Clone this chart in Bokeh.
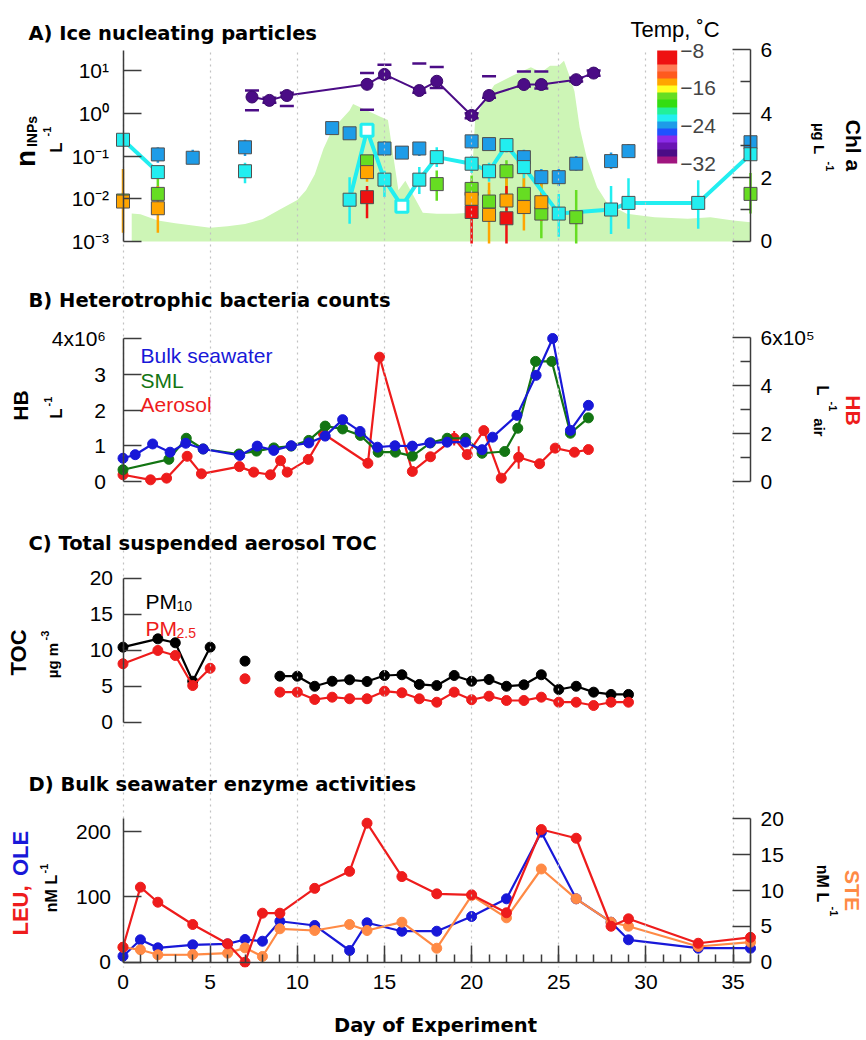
import math
from bokeh.plotting import figure
from bokeh.layouts import column
from bokeh.models import (Range1d, LinearAxis, LogAxis, FixedTicker, Label, ColorBar,
                          LinearColorMapper, LinearScale, LogScale, Grid, BoxAnnotation)
from bokeh.embed import file_html
from bokeh.resources import INLINE

FONT = "Liberation Sans"
TITLE_FONT = "DejaVu Sans"

# ---------------- data ----------------
# Panel A: Chl a (ug/L, right axis)
chl_day = [0.5, 1, 2, 3, 4, 5, 6, 7, 8, 9, 10, 10.5, 11, 11.5, 12, 12.5, 13, 13.2, 14, 14.8,
           15.2, 15.8, 16.2, 16.8, 17.2, 18, 19, 19.9, 20.2, 20.6, 21.3, 22.4, 23.4, 24, 24.5,
           25, 25.3, 25.6, 25.9, 26.2, 26.6, 27.2, 27.8, 28.9, 30.5, 32.4, 33.7, 35, 36]
chl_val = [0.88, 0.85, 0.66, 0.57, 0.5, 0.43, 0.48, 0.55, 0.7, 1.0, 1.3, 1.6, 2.1, 2.9, 3.5, 3.8,
           4.1, 4.3, 4.1, 3.9, 3.8, 1.6, 1.9, 1.3, 0.9, 0.87, 0.87, 0.9, 3.8, 4.3, 4.9, 5.2, 5.45,
           5.3, 5.5, 5.5, 5.66, 5.2, 4.7, 3.57, 2.63, 1.7, 1.18, 0.87, 0.76, 0.71, 0.76, 0.66, 0.6]

# INP concentrations (per L) by freezing temperature
purple_temp = -30.3
purple_day = [7.4, 8.4, 9.4, 14, 15, 17, 18, 20, 21, 23, 24, 26, 27]
purple_val = [2.4, 2.0, 2.6, 4.75, 8.1, 3.4, 5.6, 0.89, 2.6, 4.7, 4.7, 6.1, 8.7]
purple_hi = [3.4, 2.3, 3.0, 8.7, 13.7, 14.5, 12.0, 1.0, 7.3, 9.5, 9.5, 6.8, 10.0]
purple_lo = [1.17, 1.75, 1.48, 1.2, 6.7, 3.0, 3.9, 0.76, 2.3, 4.2, 3.8, 5.5, 7.5]

sky_temp = -24.2
sky_day = [2, 4, 7, 12, 13, 15, 16, 17, 20, 21, 23, 24, 25, 26, 28, 29, 36]
sky_val = [0.109, 0.091, 0.16, 0.45, 0.34, 0.15, 0.12, 0.15, 0.22, 0.19, 0.094, 0.032, 0.032,
           0.066, 0.076, 0.13, 0.21]
sky_lo = [0.07, 0.065, 0.10, 0.33, 0.25, 0.10, 0.085, 0.10, 0.15, 0.14, 0.06, 0.02, 0.02,
          0.045, 0.05, 0.09, 0.15]
sky_hi = [0.16, 0.14, 0.24, 0.6, 0.45, 0.22, 0.17, 0.21, 0.3, 0.26, 0.14, 0.05, 0.05, 0.1,
          0.12, 0.19, 0.28]

cyan_temp = -22.5
cyan_day = [0, 2, 7, 13, 14, 15, 16, 17, 18, 20, 21, 22, 23, 25, 28, 29, 33, 36]
cyan_val = [0.24, 0.042, 0.044, 0.0095, 0.40, 0.028, 0.0067, 0.028, 0.094, 0.066, 0.044, 0.18,
            0.055, 0.0045, 0.0056, 0.008, 0.008, 0.11]
cyan_lo = [0.17, 0.03, 0.023, 0.0026, 0.3, 0.011, 0.005, 0.013, 0.055, 0.04, 0.025, 0.12,
           0.03, 0.0013, 0.0015, 0.002, 0.002, 0.08]
cyan_hi = [0.33, 0.06, 0.07, 0.032, 0.5, 0.045, 0.009, 0.055, 0.16, 0.1, 0.07, 0.25, 0.09,
           0.013, 0.02, 0.03, 0.027, 0.15]
cyan_open = [0, 0, 0, 0, 1, 0, 1, 0, 0, 0, 0, 0, 0, 0, 0, 0, 0, 0]
cyan_seg = [0, 0, 1, 2, 2, 2, 2, 2, 2, 2, 2, 2, 2, 2, 2, 2, 2, 2]

lime_temp = -17.5
lime_day = [0, 2, 14, 18, 20, 21, 22, 23, 24, 26, 36]
lime_val = [0.0091, 0.013, 0.075, 0.022, 0.017, 0.0086, 0.044, 0.013, 0.0045, 0.0037, 0.013]
lime_lo = [0.006, 0.009, 0.05, 0.009, 0.007, 0.003, 0.013, 0.006, 0.0012, 0.0009, 0.0045]
lime_hi = [0.014, 0.03, 0.1, 0.046, 0.035, 0.016, 0.08, 0.03, 0.04, 0.016, 0.04]

orange_temp = -14.8
orange_day = [0, 2, 14, 20, 21, 22, 23, 24]
orange_val = [0.0086, 0.006, 0.042, 0.010, 0.0042, 0.0091, 0.0064, 0.0083]
orange_lo = [0.0016, 0.0016, 0.025, 0.004, 0.0009, 0.003, 0.0018, 0.003]
orange_hi = [0.05, 0.02, 0.06, 0.02, 0.024, 0.03, 0.04, 0.03]

red_temp = -9.5
red_day = [14, 20, 22]
red_val = [0.0109, 0.0049, 0.0035]
red_lo = [0.0035, 0.0009, 0.0009]
red_hi = [0.02, 0.025, 0.02]

TEMP_LOW, TEMP_HIGH = -32, -8
TEMP_TICKS = [-32, -24, -16, -8]
TEMP_PALETTE = ["#a0157f", "#4b0c86", "#6a14b4", "#8b2be8", "#1f52ff", "#1e9ce8", "#22eef0",
                "#22f09a", "#33dd11", "#66dd22", "#ffff22", "#ffa500", "#ff5a1e", "#ff7a55",
                "#ee1111", "#ee1111"]

# Panel B: heterotrophic bacteria (bulk & SML in 1e6 /L, aerosol in 1e5 /L air)
hb_bulk_day = [0, 0.7, 1.7, 2.7, 3.6, 4.6, 6.7, 7.7, 8.65, 9.65, 10.66, 11.6, 12.6, 13.6, 14.6,
               15.6, 16.6, 17.6, 18.6, 19.65, 20.6, 21.2, 22.6, 23.7, 24.65, 25.67, 26.7]
hb_bulk = [0.65, 0.75, 1.05, 0.82, 1.07, 0.91, 0.73, 0.99, 0.87, 1.0, 1.08, 1.27, 1.73, 1.40,
           0.96, 1.0, 0.99, 1.08, 1.10, 1.10, 0.89, 1.24, 1.85, 2.97, 4.0, 1.43, 2.13]
hb_sml_day = [0, 2.63, 3.63, 4.6, 6.65, 7.66, 8.65, 9.65, 10.66, 11.6, 12.6, 13.62, 14.64,
              15.63, 16.6, 17.64, 18.6, 19.65, 20.6, 21.9, 22.65, 23.67, 24.6, 25.67, 26.7]
hb_sml = [0.33, 0.62, 1.21, 0.91, 0.77, 0.85, 0.94, 0.99, 1.15, 1.55, 1.47, 1.29, 0.82, 0.82,
          0.71, 1.08, 1.21, 1.21, 0.79, 0.84, 1.49, 3.36, 3.36, 1.35, 1.78]
hb_aer_day = [0, 1.58, 2.5, 3.68, 4.5, 6.68, 7.5, 8.46, 9.04, 9.42, 10.63, 11.5, 14.05, 14.72,
              16.6, 17.64, 19.0, 19.75, 20.7, 21.7, 22.7, 23.9, 24.8, 25.9, 26.7]
hb_aer = [0.28, 0.07, 0.14, 1.05, 0.32, 0.62, 0.39, 0.28, 0.87, 0.39, 0.92, 1.99, 0.76, 5.18,
          0.42, 1.03, 1.8, 1.12, 2.12, 0.14, 1.01, 0.74, 1.39, 1.22, 1.33]
hb_aer_err_day = [19.0, 22.7]
hb_aer_err_lo = [1.5, 0.53]
hb_aer_err_hi = [2.1, 1.47]

# Panel C: TOC (ug m-3)
toc_day = [0, 2, 3, 4, 5, 7, 9, 10, 11, 12, 13, 14, 15, 16, 17, 18, 19, 20, 21, 22, 23, 24, 25,
           26, 27, 28, 29]
pm10 = [10.44, 11.6, 11.05, 5.7, 10.44, 8.5, 6.4, 6.4, 5.0, 5.7, 5.9, 5.66, 6.5, 6.6, 5.25, 5.1,
        6.5, 5.7, 5.94, 5.0, 5.2, 6.6, 4.55, 5.0, 4.18, 3.86, 3.86]
pm25 = [8.13, 9.98, 9.28, 5.1, 7.5, 6.04, 4.18, 4.18, 3.16, 3.48, 3.26, 3.26, 4.31, 4.09, 3.26,
        2.78, 4.18, 3.12, 3.62, 3.02, 3.02, 3.48, 2.78, 2.78, 2.32, 2.78, 2.78]
toc_seg = [0, 0, 0, 0, 0, 1] + [2] * 21

# Panel D: enzyme activities (nM/L)
enz_day = [0, 1, 2, 4, 6, 7, 8, 9, 11, 13, 14, 16, 18, 20, 22, 24, 26, 28, 29, 33, 36]
leu = [22.9, 114.8, 91.8, 57.7, 28.1, 0, 75, 75, 113, 139, 212.7, 131, 104.6, 103.1, 75.6, 203,
       189.7, 55, 66.4, 29, 38]
ole = [9.2, 34.3, 22, 26.6, 28, 34.7, 32.1, 62.7, 56.2, 17.9, 60.3, 47.4, 47.4, 69.9, 97, 199,
       97, 61.2, 34.3, 21.4, 21.4]
ste = [2.09, 1.73, 1.03, 1.07, 1.26, 2.0, 0.8, 4.66, 4.42, 5.26, 4.42, 5.58, 1.95, 9.3, 6.19,
       13.0, 8.84, 5.58, 5.02, 2.19, 2.79]

GRID_DAYS = [0, 5, 10, 15, 20, 25, 30, 35]
X_TICKS = [0, 5, 10, 15, 20, 25, 30, 35]
X_MINOR = list(range(0, 37))

# ---------------- styling / geometry ----------------
AX = "#3c3c3c"
W = 866
X0_PX = 122.5          # page x of day 0
PXD = 627.5 / 36       # pixels per day
XS = -X0_PX / PXD
XE = XS + W / PXD
RED = "#ee1c1c"
BLUE = "#1818d8"
GREEN = "#137513"
ORANGE = "#ff8a45"
SQ_LINE = "#505050"


def temp_color(t):
    n = len(TEMP_PALETTE)
    i = int((t - TEMP_LOW) / (TEMP_HIGH - TEMP_LOW) * n)
    return TEMP_PALETTE[min(max(i, 0), n - 1)]


def new_panel(height, ylo, yhi, log=False):
    p = figure(width=W, height=height, x_range=Range1d(XS, XE), y_range=Range1d(ylo, yhi),
               x_axis_type=None, y_axis_type=None, title=None,
               output_backend="svg", toolbar_location=None, min_border=0)
    if log:
        p.y_scale = LogScale()
    p.outline_line_color = None
    p.background_fill_color = "white"
    p.border_fill_color = "white"
    return p


def add_grid(p):
    p.add_layout(Grid(dimension=0, ticker=FixedTicker(ticks=GRID_DAYS), level="glyph",
                      grid_line_color="#c2c2c2", grid_line_dash="dotted", grid_line_width=1.2))


def mask(p, top=None, bottom=None):
    p.add_layout(BoxAnnotation(top=top, bottom=bottom, fill_color="white", fill_alpha=1.0,
                               line_color=None, level="glyph"))


def yaxis(p, side, ticks, bounds, minor=None, overrides=None, rng="default", log=False,
          standoff=12):
    cls = LogAxis if log else LinearAxis
    loc = 0 if side == "left" else 36
    ax = cls(y_range_name=rng, fixed_location=loc, bounds=bounds,
             ticker=FixedTicker(ticks=ticks, minor_ticks=minor or []),
             major_tick_in=18, major_tick_out=0, minor_tick_in=10, minor_tick_out=0,
             axis_line_color=AX, major_tick_line_color=AX, minor_tick_line_color=AX,
             axis_line_width=1.5, major_tick_line_width=1.5, minor_tick_line_width=1.5,
             major_label_text_font=FONT, major_label_text_font_size="21px",
             major_label_text_color="black", major_label_standoff=standoff)
    if overrides:
        ax.major_label_overrides = overrides
    p.add_layout(ax, side)
    return ax


def txt(p, fb, s, px, py, size, color="black", bold=False, angle=0.0, align="left",
        base="alphabetic", font=FONT):
    p.add_layout(Label(x=px, y=fb - py, x_units="screen", y_units="screen", text=s,
                       text_font=font, text_font_size=f"{size}px",
                       text_font_style="bold" if bold else "normal",
                       text_color=color, angle=angle, text_align=align, text_baseline=base))


def title(p, fb, s, py):
    txt(p, fb, s, 28, py, 19.5, bold=True, font=TITLE_FONT)


UP = math.pi / 2
DOWN = -math.pi / 2

# ---------------- Panel A ----------------
FA = 270
pA = new_panel(270, 10 ** -3.678, 10 ** (-3 + 241 / 42.75), log=True)
pA.extra_y_ranges = {"chl": Range1d(-0.908, 241 / 31.95)}
pA.extra_y_scales = {"chl": LinearScale()}
pA.varea(x=chl_day, y1=0, y2=chl_val, y_range_name="chl", fill_color="#cdf5b6",
         level="underlay")
add_grid(pA)
mask(pA, bottom=10 ** (-3 + 191 / 42.75))

series = [(sky_day, sky_val, sky_lo, sky_hi, sky_temp),
          (lime_day, lime_val, lime_lo, lime_hi, lime_temp),
          (orange_day, orange_val, orange_lo, orange_hi, orange_temp),
          (red_day, red_val, red_lo, red_hi, red_temp),
          (cyan_day, cyan_val, cyan_lo, cyan_hi, cyan_temp)]
for d, v, lo, hi, t in series:
    pA.segment(x0=d, y0=lo, x1=d, y1=hi, line_color=temp_color(t), line_width=2.5)

pc = temp_color(purple_temp)
pA.scatter(x=purple_day, y=purple_hi, marker="dash", size=14, line_color=pc, line_width=2.5)
pA.scatter(x=purple_day, y=purple_lo, marker="dash", size=14, line_color=pc, line_width=2.5)

cc = temp_color(cyan_temp)
segs_x, segs_y = {}, {}
for d, v, s in zip(cyan_day, cyan_val, cyan_seg):
    segs_x.setdefault(s, []).append(d)
    segs_y.setdefault(s, []).append(v)
pA.multi_line(xs=[segs_x[k] for k in sorted(segs_x)], ys=[segs_y[k] for k in sorted(segs_y)],
              line_color=cc, line_width=4)

for d, v, lo, hi, t in series[:4]:
    pA.scatter(x=d, y=v, marker="square", size=13, fill_color=temp_color(t),
               line_color=SQ_LINE, line_width=1)
cf_d = [d for d, o in zip(cyan_day, cyan_open) if not o]
cf_v = [v for v, o in zip(cyan_val, cyan_open) if not o]
co_d = [d for d, o in zip(cyan_day, cyan_open) if o]
co_v = [v for v, o in zip(cyan_val, cyan_open) if o]
pA.scatter(x=cf_d, y=cf_v, marker="square", size=13, fill_color=cc, line_color=SQ_LINE,
           line_width=1)
pA.scatter(x=co_d, y=co_v, marker="square", size=12, fill_color="white", line_color=cc,
           line_width=3)

pA.line(x=purple_day, y=purple_val, line_color=pc, line_width=2)
pA.scatter(x=purple_day, y=purple_val, marker="circle", size=12, fill_color=pc,
           line_color="#3a0a6a")

yaxis(pA, "left", [1e-3, 1e-2, 1e-1, 1, 10], (1e-3, 10 ** (-3 + 191 / 42.75)), log=True,
      standoff=14, overrides={1e-3: "10⁻³", 1e-2: "10⁻²", 1e-1: "10⁻¹", 1: "10⁰", 10: "10¹"})
yaxis(pA, "right", [0, 2, 4, 6], (0, 6), minor=[1, 3, 5], rng="chl", standoff=10)

cmap = LinearColorMapper(palette=TEMP_PALETTE, low=TEMP_LOW, high=TEMP_HIGH)
cbar = ColorBar(color_mapper=cmap, ticker=FixedTicker(ticks=TEMP_TICKS), location=(656.7, 107),
                width=20, height=113, padding=0, margin=0, title=None,
                major_label_text_font=FONT, major_label_text_font_size="21px",
                label_standoff=3, major_tick_line_color=None, minor_tick_line_color=None,
                bar_line_color=None, border_line_color=None, background_fill_alpha=0)
pA.add_layout(cbar)

title(pA, FA, "A) Ice nucleating particles", 33)
txt(pA, FA, "Temp, ˚C", 630, 29, 22)
txt(pA, FA, "n", 25, 158, 28, bold=True, angle=UP, align="center", base="middle")
txt(pA, FA, "INPs", 31, 131, 14, bold=True, angle=UP, align="center", base="middle")
txt(pA, FA, "L", 56, 147, 17, bold=True, angle=UP, align="center", base="middle")
txt(pA, FA, "-1", 46, 131, 11, bold=True, angle=UP, align="center", base="middle")
txt(pA, FA, "Chl a", 853, 145, 21, bold=True, angle=DOWN, align="center", base="middle")
txt(pA, FA, "µg L", 819, 138, 15, bold=True, angle=DOWN, align="center", base="middle")
txt(pA, FA, "-1", 829, 166, 11, bold=True, angle=DOWN, align="center", base="middle")

# ---------------- Panel B ----------------
FB = 510
pB = new_panel(240, -0.811, 5.902)
pB.extra_y_ranges = {"air": Range1d(-1.208, 8.79)}
add_grid(pB)
pB.segment(x0=hb_aer_err_day, y0=hb_aer_err_lo, x1=hb_aer_err_day, y1=hb_aer_err_hi,
           line_color=RED, line_width=2, y_range_name="air")
pB.line(x=hb_aer_day, y=hb_aer, line_color=RED, line_width=2.2, y_range_name="air")
pB.scatter(x=hb_aer_day, y=hb_aer, marker="circle", size=10, color=RED, y_range_name="air")
pB.line(x=hb_sml_day, y=hb_sml, line_color=GREEN, line_width=2.2)
pB.scatter(x=hb_sml_day, y=hb_sml, marker="circle", size=10, color=GREEN)
pB.line(x=hb_bulk_day, y=hb_bulk, line_color=BLUE, line_width=2.2)
pB.scatter(x=hb_bulk_day, y=hb_bulk, marker="circle", size=10, color=BLUE)
yaxis(pB, "left", [0, 1, 2, 3, 4], (0, 4), overrides={4: "4x10⁶"}, standoff=17)
yaxis(pB, "right", [0, 2, 4, 6], (0, 6), minor=[1, 3, 5], rng="air",
      overrides={6: "6x10⁵"}, standoff=10)
title(pB, FB, "B) Heterotrophic bacteria counts", 300)
txt(pB, FB, "Bulk seawater", 140, 355, 21, color=BLUE)
txt(pB, FB, "SML", 140, 380, 21, color=GREEN)
txt(pB, FB, "Aerosol", 140, 404, 21, color=RED)
txt(pB, FB, "HB", 20, 405, 21, bold=True, angle=UP, align="center", base="middle")
txt(pB, FB, "L", 56, 413, 17, bold=True, angle=UP, align="center", base="middle")
txt(pB, FB, "-1", 47, 401, 11, bold=True, angle=UP, align="center", base="middle")
txt(pB, FB, "HB", 853, 410, 21, color=RED, bold=True, angle=DOWN, align="center", base="middle")
txt(pB, FB, "L", 822, 390, 17, bold=True, angle=DOWN, align="center", base="middle")
txt(pB, FB, "-1", 832, 406, 11, bold=True, angle=DOWN, align="center", base="middle")
txt(pB, FB, "air", 819, 427, 15, bold=True, angle=DOWN, align="center", base="middle")

# ---------------- Panel C ----------------
FC = 750
pC = new_panel(240, -3.94, 29.46)
add_grid(pC)
for vals, col in ((pm10, "black"), (pm25, RED)):
    gx, gy = {}, {}
    for d, v, s in zip(toc_day, vals, toc_seg):
        gx.setdefault(s, []).append(d)
        gy.setdefault(s, []).append(v)
    pC.multi_line(xs=[gx[k] for k in sorted(gx)], ys=[gy[k] for k in sorted(gy)],
                  line_color=col, line_width=2.2)
    pC.scatter(x=toc_day, y=vals, marker="circle", size=10, color=col)
yaxis(pC, "left", [0, 5, 10, 15, 20], (0, 20), standoff=10)
title(pC, FC, "C) Total suspended aerosol TOC", 543)
txt(pC, FC, "PM", 145, 601, 21)
txt(pC, FC, "10", 176, 605, 14)
txt(pC, FC, "PM", 145, 628, 21, color=RED)
txt(pC, FC, "2.5", 176, 632, 14, color=RED)
txt(pC, FC, "TOC", 18, 652, 22, bold=True, angle=UP, align="center", base="middle")
txt(pC, FC, "µg m", 52, 660, 15, bold=True, angle=UP, align="center", base="middle")
txt(pC, FC, "-3", 44, 635, 11, bold=True, angle=UP, align="center", base="middle")

# ---------------- Panel D ----------------
FD = 1040
pD = new_panel(290, -78.3 / 0.6535, 211.7 / 0.6535)
pD.extra_y_ranges = {"ste": Range1d(-78.3 / 7.17, 211.7 / 7.17)}
add_grid(pD)
mask(pD, top=-8)
pD.line(x=enz_day, y=ole, line_color=BLUE, line_width=2.2)
pD.scatter(x=enz_day, y=ole, marker="circle", size=10, color=BLUE)
pD.line(x=enz_day, y=ste, line_color=ORANGE, line_width=2.2, y_range_name="ste")
pD.scatter(x=enz_day, y=ste, marker="circle", size=10, color=ORANGE, y_range_name="ste")
pD.line(x=enz_day, y=leu, line_color=RED, line_width=2.2)
pD.scatter(x=enz_day, y=leu, marker="circle", size=10, color=RED)
yaxis(pD, "left", [0, 100, 200], (0, 219.4), standoff=12)
yaxis(pD, "right", [0, 5, 10, 15, 20], (0, 20), rng="ste", standoff=10)
xa = LinearAxis(fixed_location=0, bounds=(0, 36),
                ticker=FixedTicker(ticks=X_TICKS, minor_ticks=X_MINOR),
                major_tick_in=17, major_tick_out=0, minor_tick_in=8, minor_tick_out=0,
                axis_line_color=AX, major_tick_line_color=AX, minor_tick_line_color=AX,
                axis_line_width=1.5, major_tick_line_width=1.5, minor_tick_line_width=1.5,
                major_label_text_font=FONT, major_label_text_font_size="21px",
                major_label_text_color="black", major_label_standoff=13)
pD.add_layout(xa, "below")
title(pD, FD, "D) Bulk seawater enzyme activities", 784)
txt(pD, FD, "Day of Experiment", 435, 1025, 19.5, bold=True, align="center", font=TITLE_FONT)
txt(pD, FD, "LEU,", 20, 910, 22, color=RED, bold=True, angle=UP, align="center", base="middle")
txt(pD, FD, "OLE", 20, 853, 22, color=BLUE, bold=True, angle=UP, align="center", base="middle")
txt(pD, FD, "nM L", 51, 893, 16, bold=True, angle=UP, align="center", base="middle")
txt(pD, FD, "-1", 43, 868, 11, bold=True, angle=UP, align="center", base="middle")
txt(pD, FD, "STE", 852, 890, 21, color=ORANGE, bold=True, angle=DOWN, align="center",
    base="middle")
txt(pD, FD, "nM L", 822, 883, 16, bold=True, angle=DOWN, align="center", base="middle")
txt(pD, FD, "-1", 833, 911, 11, bold=True, angle=DOWN, align="center", base="middle")

layout = column(pA, pB, pC, pD, spacing=0)
open("out.html", "w").write(file_html(layout, INLINE))
